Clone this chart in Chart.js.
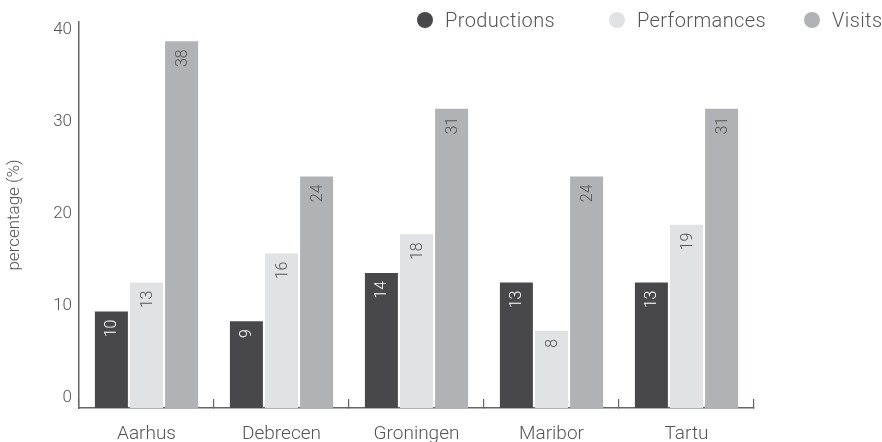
<!DOCTYPE html>
<html>
<head>
<meta charset="utf-8">
<script src="https://cdn.jsdelivr.net/npm/chart.js@4"></script>
<style>
  body { margin: 0; background: #fff; }
  #wrap { position: relative; width: 882px; height: 442px; }
  #legend { position: absolute; top: 8px; left: 417px; display: flex; white-space: nowrap; font-family: Roboto, sans-serif; font-weight: 300; font-size: 20px; letter-spacing: 0.4px; color: #555; }
  #legend .item { display: flex; align-items: center; }
  #legend .dot { width: 16px; height: 16px; border-radius: 50%; margin-right: 12px; flex: none; }
</style>
</head>
<body>
<div id="wrap">
  <canvas id="chart" width="882" height="442"></canvas>
  <div id="legend"></div>
</div>
<script>
var cities = ["Aarhus", "Debrecen", "Groningen", "Maribor", "Tartu"];
var productions = [10, 9, 14, 13, 13];
var performances = [13, 16, 18, 8, 19];
var visits = [38, 24, 31, 24, 31];
var yTicks = [0, 10, 20, 30, 40];

var colors = ["#48484a", "#e1e2e4", "#b0b2b5"];
var labelColors = ["#ffffff", "#555555", "#555555"];
var legendWidths = [192, 195, 60];
var font = "Roboto, sans-serif";

// numbers written up the inside of each bar
var barLabels = {
    id: 'barLabels',
    afterDatasetsDraw: function(chart) {
        var ctx = chart.ctx;
        chart.data.datasets.forEach(function(ds, i) {
            var meta = chart.getDatasetMeta(i);
            meta.data.forEach(function(bar, j) {
                ctx.save();
                ctx.translate(bar.x, bar.y + 8);
                ctx.rotate(-Math.PI / 2);
                ctx.font = "300 16px " + font;
                ctx.fillStyle = labelColors[i];
                ctx.textAlign = 'right';
                ctx.textBaseline = 'middle';
                ctx.fillText(ds.data[j], 0, 1);
                ctx.restore();
            });
        });
    }
};

var ctx = document.getElementById("chart");
var chart = new Chart(ctx, {
    type: 'bar',
    data: {
        labels: cities,
        datasets: [
            { label: "Productions", data: productions, backgroundColor: colors[0] },
            { label: "Performances", data: performances, backgroundColor: colors[1] },
            { label: "Visits", data: visits, backgroundColor: colors[2] }
        ]
    },
    options: {
        responsive: false,
        animation: false,
        layout: { padding: { top: 22, right: 128, bottom: 0, left: 0 } },
        datasets: { bar: { categoryPercentage: 0.78, barPercentage: 0.94 } },
        plugins: { legend: { display: false }, tooltip: { enabled: false } },
        scales: {
            x: {
                grid: { drawOnChartArea: false, tickLength: -9, color: "#666", lineWidth: 1.2 },
                border: { color: "#666", width: 1.5 },
                ticks: { color: "#555", font: { family: font, size: 19, weight: 300 }, padding: 24 },
                afterFit: function(s) { s.height = 34; }
            },
            y: {
                min: 0,
                max: 40,
                weight: 0,
                grid: { display: false, drawTicks: false },
                ticks: { display: false },
                border: { color: "#666", width: 1.5 },
                afterFit: function(s) { s.width = 0; }
            },
            yl: {
                position: 'left',
                weight: 1,
                min: -1.087,
                max: 40.87,
                grid: { display: false, drawTicks: false },
                border: { display: false },
                ticks: { color: "#555", font: { family: font, size: 17, weight: 300 }, padding: 7 },
                afterBuildTicks: function(s) { s.ticks = yTicks.map(function(v) { return { value: v }; }); },
                title: { display: true, text: "percentage (%)", color: "#555", font: { family: font, size: 17, weight: 300 }, padding: { top: 5, bottom: 0 } },
                afterFit: function(s) { s.width = 79; }
            }
        }
    },
    plugins: [barLabels]
});

// html legend built from the datasets
var legend = document.getElementById("legend");
chart.data.datasets.forEach(function(ds, i) {
    var item = document.createElement("div");
    item.className = "item";
    item.style.width = legendWidths[i] + "px";
    var dot = document.createElement("span");
    dot.className = "dot";
    dot.style.background = ds.backgroundColor;
    var txt = document.createElement("span");
    txt.textContent = ds.label;
    item.appendChild(dot);
    item.appendChild(txt);
    legend.appendChild(item);
});
</script>
</body>
</html>
